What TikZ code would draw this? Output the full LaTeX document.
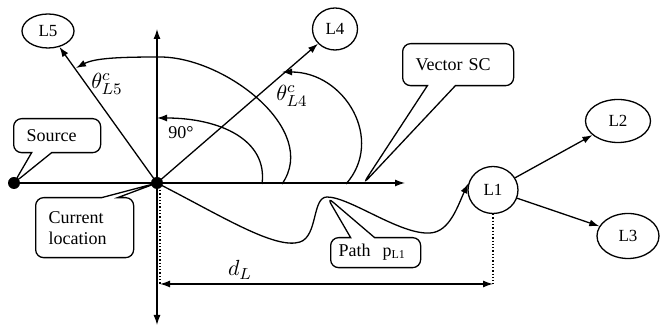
\documentclass[tikz,border=0pt]{standalone}
\usepackage{amsmath}
\usepackage{fontspec}
\setmainfont{Liberation Serif}
\usetikzlibrary{arrows.meta,shapes.geometric,shapes.callouts}

\tikzset{
  loc/.style={draw,ellipse,inner sep=0pt,font=\fontsize{8.5}{10}\selectfont},
  note/.style={draw,rectangle callout,rounded corners=4pt,anchor=north west,align=left,
    inner xsep=6.5pt,inner ysep=0pt,callout pointer width=10pt,font=\fontsize{9}{10.5}\selectfont},
  lbl/.style={font=\fontsize{11}{13}\selectfont}
}

\begin{document}
\begin{tikzpicture}[x=0.5pt,y=-0.5pt,>={Latex[length=5pt,width=3.5pt]},line width=0.65pt]
  \useasboundingbox (0,0) rectangle (660,335);
  \coordinate (S) at (14,183); \coordinate (C) at (157,183); \coordinate (Xend) at (405,183);
  \coordinate (Ytop) at (157,29); \coordinate (Ybot) at (157,325);
  \coordinate (dA) at (160,284); \coordinate (dB) at (493,284); \coordinate (dC) at (160,190);
  \coordinate (SC) at (363,184); \coordinate (P) at (327,197);
  % locations
  \node[loc,minimum width=26pt,minimum height=17pt] (L5) at (48,31) {L5};
  \node[loc,minimum width=22.5pt,minimum height=21pt] (L4) at (335,29) {L4};
  \node[loc,minimum width=25pt,minimum height=23.5pt] (L1) at (493,190) {L1};
  \node[loc,minimum width=32.5pt,minimum height=21.5pt] (L2) at (618,121) {L2};
  \node[loc,minimum width=31pt,minimum height=22.5pt] (L3) at (628,236) {L3};
  % axes and vectors
  \draw[<->] (Ybot) -- (Ytop); \draw[->] (S) -- (Xend);
  \draw[->] (C) -- (L5); \draw[->] (C) -- (L4);
  \draw[->] (L1) -- (L2); \draw[->] (L1) -- (L3);
  % angles
  \draw[->] (262,184) .. controls (268,140) and (220,118) .. (157,118);
  \draw[->] (346,184) .. controls (385,140) and (345,72) .. (282,72);
  \draw[->] (282,184) .. controls (320,130) and (225,57) .. (160,57) .. controls (120,57) and (95,58) .. (76,68);
  \node[lbl] at (107,84) {$\theta^{c}_{L5}$}; \node[lbl] at (292,96) {$\theta^{c}_{L4}$};
  \node[font=\fontsize{9}{10.5}\selectfont] at (181,133) {90\textdegree};
  % path to L1
  \draw[->] (C) .. controls (220,215) and (275,250) .. (300,242) .. controls (318,236) and (312,197) .. (P)
    .. controls (350,197) and (400,235) .. (430,233) .. controls (450,232) and (458,205) .. (L1.165);
  % distance
  \draw[densely dotted] (dC) -- (dA); \draw[densely dotted] (L1.south) -- (dB);
  \draw[<->] (dA) -- (dB); \node[lbl] at (240,270) {$d_L$};
  % dots
  \fill (S) circle (3pt); \fill (C) circle (3pt);
  % callouts
  \node[note,text width=30.5pt,minimum width=43.5pt,minimum height=17pt,callout absolute pointer={(S)}] (src) at (13,118) {Source};
  \node[note,text width=36pt,minimum width=49pt,minimum height=30pt,callout pointer width=8pt,callout absolute pointer={(C)}] (cur) at (35,197) {Current\\location};
  \node[note,text width=42.5pt,minimum width=55.5pt,minimum height=21pt,callout pointer width=14pt,callout absolute pointer={(SC)}] (vsc) at (402,43) {Vector SC};
  \node[note,text width=37pt,inner xsep=4pt,minimum width=45pt,minimum height=15pt,callout pointer width=12pt,callout absolute pointer={(P)}] (pth) at (330,237) {Path\ \ p\textsubscript{L1}};
\end{tikzpicture}
\end{document}
